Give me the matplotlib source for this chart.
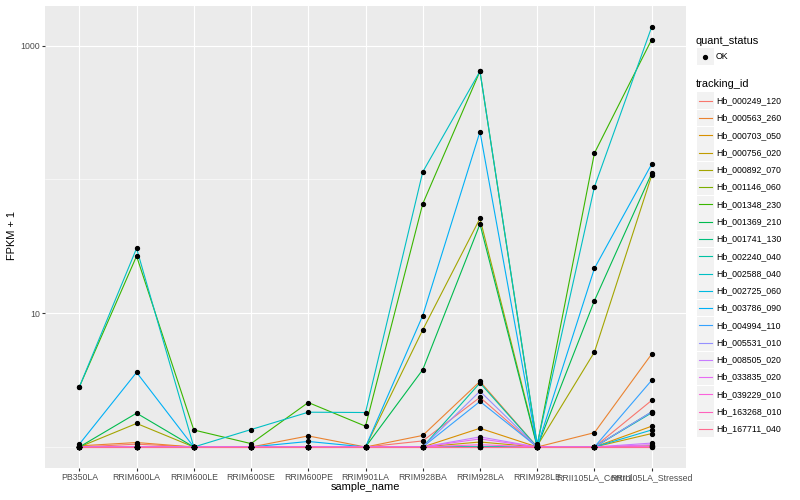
import numpy as np
import matplotlib
matplotlib.use('Agg')
from matplotlib import pyplot as plt
from matplotlib.patches import Rectangle
from matplotlib.lines import Line2D

plt.rcParams['font.family'] = ['Liberation Sans', 'DejaVu Sans']

samples = ['PB350LA', 'RRIM600LA', 'RRIM600LE', 'RRIM600SE', 'RRIM600PE', 'RRIM901LA',
           'RRIM928BA', 'RRIM928LA', 'RRIM928LE', 'RRII105LA_Control', 'RRII105LA_Stressed']

tracking_ids = ['Hb_000249_120', 'Hb_000563_260', 'Hb_000703_050', 'Hb_000756_020',
                'Hb_000892_070', 'Hb_001146_060', 'Hb_001348_230', 'Hb_001369_210',
                'Hb_001741_130', 'Hb_002240_040', 'Hb_002588_040', 'Hb_002725_060',
                'Hb_003786_090', 'Hb_004994_110', 'Hb_005531_010', 'Hb_008505_020',
                'Hb_033835_020', 'Hb_039229_010', 'Hb_163268_010', 'Hb_167711_040']

# ggplot default hue palette for 20 levels
colors = ['#F8766D', '#EA8331', '#D89000', '#C09B00', '#A3A500', '#7CAE00', '#39B600',
          '#00BB4E', '#00BF7D', '#00C1A3', '#00BFC4', '#00BAE0', '#00B0F6', '#35A2FF',
          '#9590FF', '#C77CFF', '#E76BF3', '#FA62DB', '#FF62BC', '#FF6C91']

# FPKM + 1, one row per tracking_id, columns follow samples
fpkm_plus_1 = [
    [1, 1.05, 1, 1, 1, 1, 1.11, 2.35, 1, 1, 2.23],
    [1.02, 1.08, 1, 1, 1.21, 1, 1.22, 3.09, 1, 1.28, 4.95],
    [1, 1, 1, 1, 1, 1, 1, 1.38, 1, 1, 1.43],
    [1, 1, 1, 1, 1, 1, 1, 1.09, 1, 1, 1.26],
    [1, 1.50, 1, 1, 1, 1, 7.5, 51, 1.02, 5.12, 107],
    [1, 1, 1, 1, 1, 1, 1, 1, 1, 1, 1.02],
    [2.81, 26.7, 1.34, 1.06, 2.15, 1.43, 65.6, 642, 1.03, 157, 1107],
    [1, 1.79, 1, 1, 1, 1, 3.78, 46.3, 1, 12.4, 111],
    [1, 1, 1, 1, 1, 1, 1, 1, 1, 1, 1.83],
    [1, 1, 1, 1, 1, 1, 1, 3.01, 1, 1, 1.80],
    [2.81, 30.5, 1, 1.35, 1.82, 1.81, 113.5, 642, 1.05, 87.8, 1375],
    [1, 1, 1, 1, 1, 1, 1, 1, 1, 1, 1.34],
    [1.05, 3.61, 1, 1, 1.10, 1, 9.6, 227, 1, 21.6, 130],
    [1, 1, 1, 1, 1, 1, 1, 2.19, 1, 1, 3.15],
    [1, 1, 1, 1, 1, 1, 1, 2.61, 1, 1, 1.83],
    [1, 1, 1, 1, 1, 1, 1, 1.19, 1, 1, 1.07],
    [1, 1, 1, 1, 1, 1, 1, 1.15, 1, 1, 1.04],
    [1, 1, 1, 1, 1, 1, 1, 1.04, 1, 1, 1.01],
    [1, 1, 1, 1, 1, 1, 1, 1.0, 1, 1, 1.0],
    [1, 1, 1, 1, 1, 1, 1, 1.0, 1, 1, 1.0],
]

W, H = 800, 500
def fx(px):
    return px / W
def fy(py):
    return 1 - py / H

fig = plt.figure(figsize=(W / 100, H / 100), dpi=100)
ax = fig.add_axes([fx(45), fy(468), (686 - 45) / W, (468 - 6) / H])
ax.set_facecolor('#EBEBEB')
for s in ax.spines.values():
    s.set_visible(False)

x = np.arange(len(samples))
for vals, c in zip(fpkm_plus_1, colors):
    ax.plot(x, vals, color=c, lw=0.8, zorder=3)
for vals in fpkm_plus_1:
    ax.plot(x, vals, ls='none', marker='o', ms=2.8, color='black', zorder=4)

ax.set_yscale('log')
allv = np.log10(np.array(fpkm_plus_1, dtype=float))
lo, hi = allv.min(), allv.max()
span = hi - lo
ax.set_ylim(10 ** (lo - 0.05 * span), 10 ** (hi + 0.05 * span))
ax.set_xlim(-0.6, len(samples) - 1 + 0.6)

ax.set_yticks([10, 1000])
ax.set_yticklabels(['10', '1000'])
ax.set_yticks([1, 100], minor=True)
ax.set_yticklabels([], minor=True)
ax.set_xticks(x)
ax.set_xticklabels(samples)

ax.grid(True, which='major', color='white', lw=0.8, zorder=0)
ax.grid(True, which='minor', axis='y', color='white', lw=0.4, zorder=0)
ax.set_axisbelow(True)
ax.tick_params(which='major', length=2, width=0.8, color='#333333', labelcolor='#4D4D4D',
               labelsize=6.3, pad=1.6)
ax.tick_params(which='minor', length=0)

fig.text(fx(365), fy(487), 'sample_name', ha='center', va='center', fontsize=7.9)
fig.text(fx(12), fy(236), 'FPKM + 1', ha='center', va='center', rotation=90, fontsize=7.9)

# legends, drawn by hand in ggplot style
def key_box(py):
    fig.add_artist(Rectangle((fx(697), fy(py + 8.3)), 16.5 / W, 16.6 / H,
                             transform=fig.transFigure, facecolor='#F2F2F2', edgecolor='none'))

fig.text(fx(696), fy(40.5), 'quant_status', ha='left', va='center', fontsize=7.9)
key_box(56.7)
fig.add_artist(Line2D([fx(705.2)], [fy(56.7)], transform=fig.transFigure, ls='none',
                      marker='o', ms=2.8, color='black'))
fig.text(fx(716), fy(56.7), 'OK', ha='left', va='center', fontsize=6.3)

fig.text(fx(696), fy(84), 'tracking_id', ha='left', va='center', fontsize=7.9)
for i, (tid, c) in enumerate(zip(tracking_ids, colors)):
    py = 100.7 + i * 17.28
    key_box(py)
    fig.add_artist(Line2D([fx(699), fx(712)], [fy(py), fy(py)], transform=fig.transFigure,
                          color=c, lw=0.8))
    fig.text(fx(716), fy(py), tid, ha='left', va='center', fontsize=6.3)

fig.savefig('out.png', dpi=100)
